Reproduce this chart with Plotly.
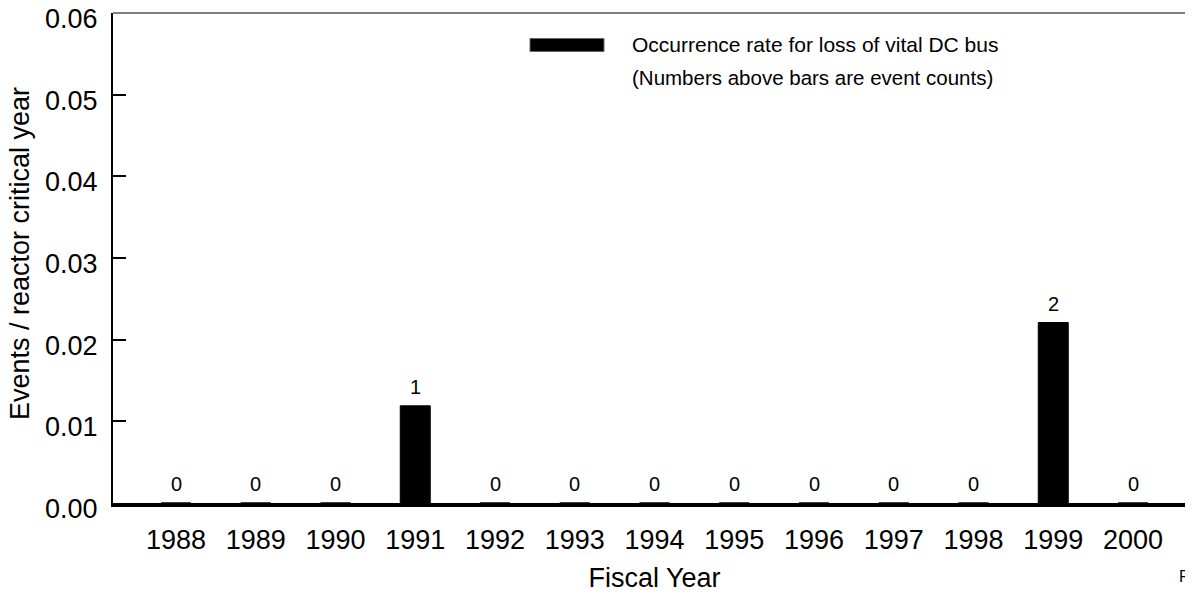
import plotly.graph_objects as go

years = ["1988", "1989", "1990", "1991", "1992", "1993", "1994",
         "1995", "1996", "1997", "1998", "1999", "2000"]
rates = [0, 0, 0, 0.0119, 0, 0, 0, 0, 0, 0, 0, 0.0221, 0]
counts = [0, 0, 0, 1, 0, 0, 0, 0, 0, 0, 0, 2, 0]
y_ticks = [0.0, 0.01, 0.02, 0.03, 0.04, 0.05, 0.06]
y_tick_text = ["0.00", "0.01", "0.02", "0.03", "0.04", "0.05", "0.06"]

FONT = "Liberation Sans, Arial, sans-serif"

# plot-area geometry in figure pixels (used only to place legend texts)
L, R, T, B = 105, 5, 5, 100
W, H = 1193, 595
PW, PH = W - L - R, H - T - B


def px(x):
    return (x - L) / PW


def py(y):
    return (H - B - y) / PH


fig = go.Figure()
fig.add_trace(go.Bar(
    x=years, y=rates, width=0.376,
    marker=dict(color="black", line=dict(color="black", width=1)),
    showlegend=False, hoverinfo="x+y",
))
# invisible trace for the right-hand y axis ticks
fig.add_trace(go.Scatter(x=years, y=rates, yaxis="y2", mode="none",
                         showlegend=False, hoverinfo="skip"))

# event counts above the bars (category index positions)
for i, (r, c) in enumerate(zip(rates, counts)):
    fig.add_annotation(x=i, y=r, xref="x", yref="y", text=str(c), showarrow=False,
                       yshift=19, font=dict(size=20, color="black", family=FONT))

# y tick labels (sit slightly below their tick marks, as in the original)
for v, t in zip(y_ticks, y_tick_text):
    fig.add_annotation(xref="paper", yref="y", x=0, y=v, text=t, showarrow=False,
                       xanchor="right", yanchor="middle", xshift=-14, yshift=-6,
                       borderpad=0,
                       font=dict(size=27, color="black", family=FONT))

YMAX = 0.0600001
fig.update_layout(
    width=W, height=H,
    margin=dict(l=L, r=R, t=T, b=B, autoexpand=False),
    paper_bgcolor="white", plot_bgcolor="white",
    font=dict(family=FONT, color="black"),
    xaxis=dict(
        type="category", range=[-0.79, 12.79],
        showline=True, linecolor="black", linewidth=3.5,
        ticks="", showgrid=False, zeroline=False,
        tickfont=dict(size=27), ticklabelstandoff=10,
        title=dict(text="Fiscal Year", font=dict(size=27), standoff=15),
    ),
    yaxis=dict(
        range=[0, YMAX], tickvals=y_ticks,
        showline=True, linecolor="black", linewidth=1.5,
        ticks="inside", ticklen=13, tickwidth=1.5, tickcolor="black",
        showgrid=False, zeroline=False, showticklabels=False,
    ),
    yaxis2=dict(
        overlaying="y", side="right", range=[0, YMAX],
        tickvals=y_ticks[1:-1], showticklabels=False,
        ticks="inside", ticklen=10, tickwidth=1.5, tickcolor="black",
        showline=False, showgrid=False, zeroline=False,
    ),
)

# y axis title
fig.add_annotation(xref="paper", yref="paper", x=px(12), y=py(246),
                   xanchor="center", yanchor="middle", textangle=-90, showarrow=False,
                   borderpad=0,
                   text="Events / reactor critical year",
                   font=dict(size=27, family=FONT, color="black"))
# top frame line
fig.add_shape(type="line", xref="paper", yref="paper", x0=0, x1=1, y0=1, y1=1,
              line=dict(color="black", width=1.2))
# legend swatch
fig.add_shape(type="rect", xref="paper", yref="paper",
              x0=px(522), x1=px(596), y0=py(43.5), y1=py(30.5),
              fillcolor="black", line=dict(color="#666", width=1))
fig.add_annotation(xref="paper", yref="paper", x=px(622), y=py(36.5),
                   xanchor="left", yanchor="middle", showarrow=False,
                   text="Occurrence rate for loss of vital DC bus",
                   font=dict(size=21, family=FONT, color="black"))
fig.add_annotation(xref="paper", yref="paper", x=px(622), y=py(69),
                   xanchor="left", yanchor="middle", showarrow=False,
                   text="(Numbers above bars are event counts)",
                   font=dict(size=20.5, family=FONT, color="black"))
fig.add_annotation(xref="paper", yref="paper", x=px(1169), y=py(568),
                   xanchor="left", yanchor="middle", showarrow=False,
                   text="FACTS", font=dict(size=16, family=FONT, color="black"))

fig.write_html("out.html")
